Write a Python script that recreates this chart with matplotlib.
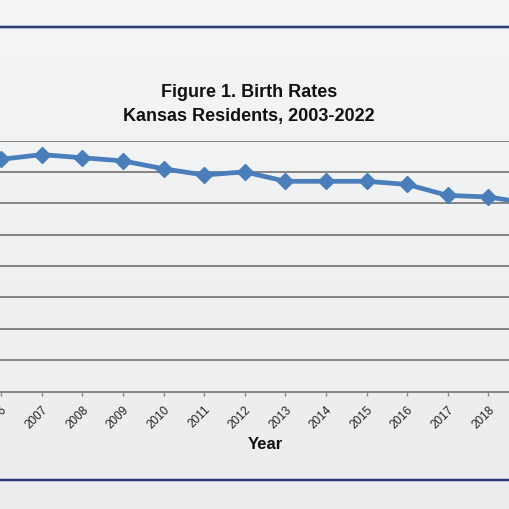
import matplotlib.pyplot as plt
import numpy as np

plt.rcParams["font.family"] = ["Liberation Sans", "DejaVu Sans"]

# ── data (visible part of the chart) ──────────────────────────────────────────
years = [2006, 2007, 2008, 2009, 2010, 2011, 2012,
         2013, 2014, 2015, 2016, 2017, 2018, 2019]
birth_rate = [14.8, 15.1, 14.9, 14.7, 14.2, 13.8, 14.0,
              13.4, 13.4, 13.4, 13.2, 12.5, 12.4, 12.0]
y_ticks = [0, 2, 4, 6, 8, 10, 12, 14, 16]

title_lines = ["Figure 1. Birth Rates", "Kansas Residents, 2003-2022"]
x_label = "Year"

# ── figure ────────────────────────────────────────────────────────────────────
W = H = 510
fig = plt.figure(figsize=(W / 100, H / 100), dpi=100)

# soft grey gradient background
bg = fig.add_axes([0, 0, 1, 1], zorder=-10)
grad = np.linspace(0, 1, 256).reshape(-1, 1)
bg.imshow(grad, aspect="auto", cmap=plt.matplotlib.colors.LinearSegmentedColormap.from_list(
    "bg", ["#f4f5f6", "#ebeced"]), extent=[0, 1, 0, 1], origin="upper")
bg.set_axis_off()

px_per_year = 40.6
x_2007 = 41.7
x_lo = 2007 - x_2007 / px_per_year
x_hi = 2007 + (W - x_2007) / px_per_year

ax = fig.add_axes([0, (H - 392.5) / H, 1, (392.5 - 141.5) / H])
ax.set_facecolor("none")

ax.plot(years, birth_rate, color="#4a7ebb", lw=3.4, marker="D", ms=8,
        markeredgecolor="#4a7ebb", solid_joinstyle="round", zorder=3)

ax.set_yticks(y_ticks)
ax.yaxis.grid(True, color="#858585", lw=1.4)
ax.tick_params(axis="y", left=False, labelleft=False)
for s in ("left", "right", "top"):
    ax.spines[s].set_visible(False)
ax.spines["bottom"].set_color("#858585")
ax.spines["bottom"].set_linewidth(1.4)

ax.set_xticks(years)
ax.set_xticklabels([str(y) for y in years], rotation=45, ha="right",
                   va="top", rotation_mode="anchor", fontsize=8.5, color="#222222")
ax.tick_params(axis="x", direction="out", length=3, width=1, color="#858585", pad=5)

# limits last, so the tick setup does not widen them
ax.set_xlim(x_lo, x_hi)
ax.set_ylim(0, 16)

# titles and axis label
fig.text(249 / W, (H - 97.3) / H, title_lines[0], ha="center", va="baseline",
         fontsize=13, fontweight="bold", color="#111111")
fig.text(249 / W, (H - 121.5) / H, title_lines[1], ha="center", va="baseline",
         fontsize=13, fontweight="bold", color="#111111")
fig.text(265 / W, (H - 445) / H, x_label, ha="center", va="center",
         fontsize=12, fontweight="bold", color="#111111")

# outer chart border (top and bottom edges visible)
for yy in (27.7, 481.0):
    fig.add_artist(plt.Line2D([0, 1], [(H - yy) / H] * 2, color="#a9b4d0", lw=2.6))
    fig.add_artist(plt.Line2D([0, 1], [(H - yy) / H] * 2, color="#26336b", lw=1.3))

fig.savefig("out.png", dpi=100)
